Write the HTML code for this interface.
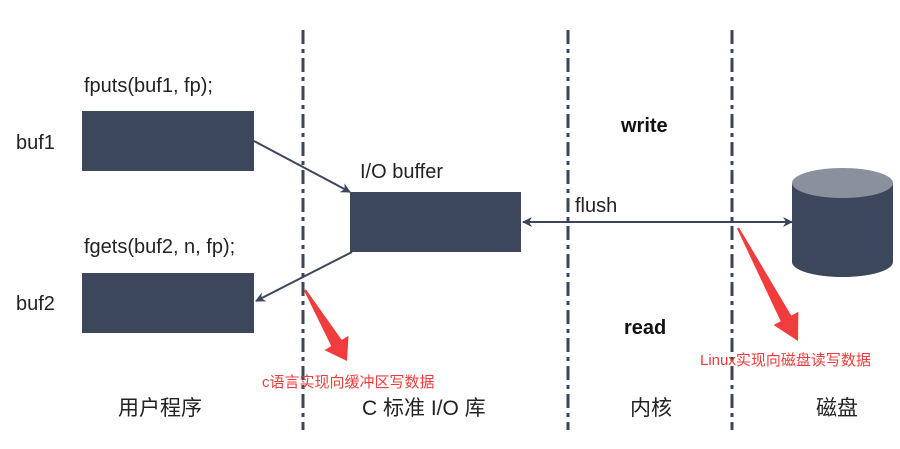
<!DOCTYPE html>
<html><head><meta charset="utf-8"><style>
body{margin:0;background:#fff;}
svg{display:block;font-family:"Liberation Sans","Noto Sans CJK SC",sans-serif;}
</style></head><body>
<svg width="900" height="449" viewBox="0 0 900 449">
<defs>
<marker id="a" markerWidth="10" markerHeight="10" refX="9" refY="5" orient="auto" markerUnits="userSpaceOnUse">
<path d="M0,0 L10,5 L0,10 L3,5 Z" fill="#3b4659"/></marker>
</defs>
<g stroke="#3b4659" stroke-width="3" stroke-dasharray="14,5,4,5">
<line x1="303" y1="30" x2="303" y2="430"/>
<line x1="568" y1="30" x2="568" y2="430"/>
<line x1="732" y1="30" x2="732" y2="430"/>
</g>
<rect x="82" y="111" width="172" height="60" fill="#3d475b"/>
<rect x="82" y="273" width="172" height="60" fill="#3d475b"/>
<rect x="350" y="192" width="171" height="60" fill="#3d475b"/>
<g stroke="#3b4659" stroke-width="2" fill="none">
<line x1="254" y1="141" x2="350" y2="192" marker-end="url(#a)"/>
<line x1="352" y1="252" x2="256" y2="301" marker-end="url(#a)"/>
<line x1="700" y1="222" x2="523" y2="222" marker-end="url(#a)"/>
<line x1="560" y1="222" x2="792" y2="222" marker-end="url(#a)"/>
</g>
<path d="M792,183 L792,262 A50.5,15 0 0 0 893,262 L893,183 Z" fill="#3d475b"/>
<ellipse cx="842.5" cy="183" rx="50.5" ry="15" fill="#8a909c"/>
<path d="M306,289.5 L341.7,339.9 L348.5,335.9 L347,361 L324.5,350.1 L331.3,346.1 L304,290.5 Z" fill="#f03c3c"/>
<path d="M739,227.5 L791.3,315.6 L798.4,311.8 L798,341 L773.6,325 L780.7,321.2 L737,228.5 Z" fill="#f03c3c"/>
<g fill="#222" font-size="20">
<text x="84" y="92">fputs(buf1, fp);</text>
<text x="16" y="149">buf1</text>
<text x="84" y="253">fgets(buf2, n, fp);</text>
<text x="16" y="310">buf2</text>
<text x="360" y="178">I/O buffer</text>
<text x="575" y="212">flush</text>
<text x="118" y="415" font-size="21">用户程序</text>
<text x="362" y="415" font-size="21">C 标准 I/O 库</text>
<text x="630" y="415" font-size="21">内核</text>
<text x="816" y="415" font-size="21">磁盘</text>
</g>
<g fill="#111" font-size="20" font-weight="bold">
<text x="621" y="132">write</text>
<text x="624" y="334">read</text>
</g>
<g fill="#f03c3c" font-size="15">
<text x="262" y="387">c语言实现向缓冲区写数据</text>
<text x="700" y="365">Linux实现向磁盘读写数据</text>
</g>
</svg>
</body></html>
